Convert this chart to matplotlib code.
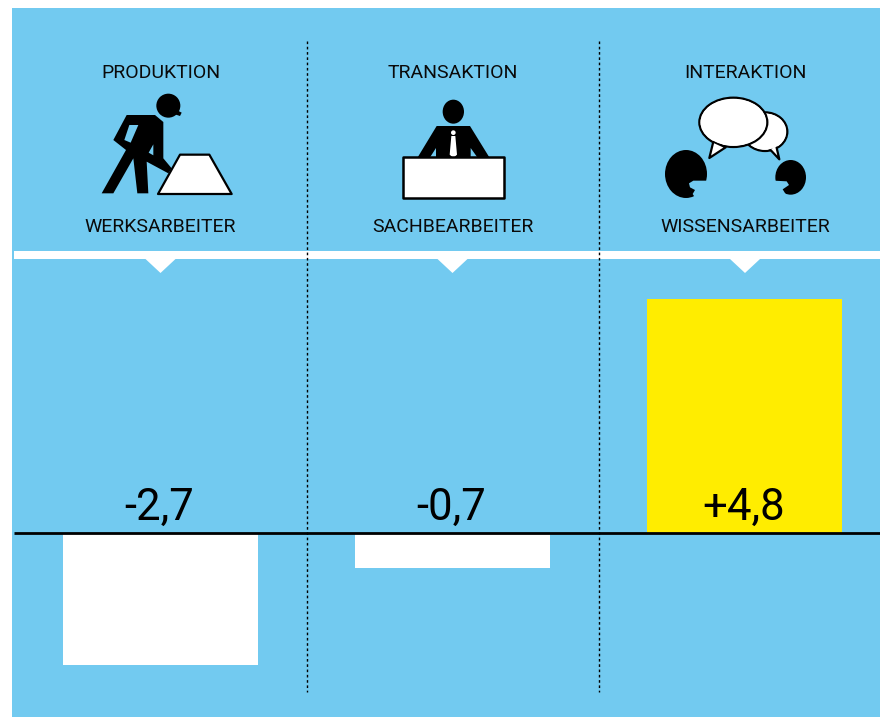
import matplotlib
matplotlib.use("Agg")
import matplotlib.pyplot as plt
from matplotlib.patches import Ellipse, Polygon, Rectangle

plt.rcParams["font.family"] = ["Roboto", "DejaVu Sans"]

BLUE = "#72CAF0"
YELLOW = "#FFED00"

activities = ["PRODUKTION", "TRANSAKTION", "INTERAKTION"]
workers = ["WERKSARBEITER", "SACHBEARBEITER", "WISSENSARBEITER"]
values = [-2.7, -0.7, 4.8]
value_labels = ["-2,7", "-0,7", "+4,8"]
bar_colors = ["white", "white", YELLOW]

W, H = 880, 717
fig = plt.figure(figsize=(W / 100, H / 100), dpi=100, facecolor="white")

# overlay in pixel coordinates for the panel and the pictograms
px = fig.add_axes([0, 0, 1, 1], zorder=1)
px.set_xlim(0, W)
px.set_ylim(H, 0)
px.axis("off")
px.add_patch(Rectangle((12, 8), W - 12, H - 8, fc=BLUE, ec="none"))

# bars use their own value scale, zero sits at pixel row 533.5
PX_PER_UNIT = 48.8
PX_PER_CAT = 292
ZERO_ROW = 533.5
ax = fig.add_axes([0, 0, 1, 1], zorder=2)
ax.patch.set_alpha(0)
ax.set_xlim(-160.5 / PX_PER_CAT, (W - 160.5) / PX_PER_CAT)
ax.set_ylim(-(H - ZERO_ROW) / PX_PER_UNIT, ZERO_ROW / PX_PER_UNIT)
ax.axis("off")
ax.bar(range(3), values, width=195 / PX_PER_CAT, color=bar_colors, linewidth=0)

top = fig.add_axes([0, 0, 1, 1], zorder=3)
top.patch.set_alpha(0)
top.set_xlim(0, W)
top.set_ylim(H, 0)
top.axis("off")

top.plot([14, W], [533, 533], color="black", lw=2, solid_capstyle="butt")
top.add_patch(Rectangle((14, 251), W - 14, 8, fc="white", ec="none"))
for x in [306.5, 598.5]:
    top.plot([x, x], [41, 691.5], color="black", lw=1, dashes=(1.9, 1.9), dash_capstyle="butt")

centers = [160.5, 452.5, 745]
for i, c in enumerate(centers):
    top.add_patch(Polygon([(c - 15, 259), (c + 15, 259), (c, 273)], fc="white", ec="none"))
    top.text(c, 73, activities[i], ha="center", va="center", fontsize=14, color="#0a0a0a")
    top.text(c, 226.5, workers[i], ha="center", va="center", fontsize=14, color="#0a0a0a")
    top.text(c - 1, 507.5, value_labels[i], ha="center", va="center", fontsize=31.5, color="black")


def blob(x0, y0, cx, cy, rx, ry, fc="black", ec="none", lw=0):
    top.add_patch(Ellipse((x0 + cx / 3, y0 + cy / 3), 2 * rx / 3, 2 * ry / 3, fc=fc, ec=ec, lw=lw))


def poly(x0, y0, points, fc="black", ec="none", lw=0):
    pts = [(x0 + a / 3, y0 + b / 3) for a, b in points]
    top.add_patch(Polygon(pts, fc=fc, ec=ec, lw=lw, joinstyle="round"))


# worker with shovel
x0, y0 = 100, 90
blob(x0, y0, 205, 47, 36, 36)
poly(x0, y0, [(230, 60), (245, 68), (240, 78), (222, 72)])
poly(x0, y0, [(80, 75), (165, 75), (190, 96), (190, 205), (215, 235), (205, 250), (140, 215),
              (145, 310), (112, 310), (100, 205), (40, 310), (5, 310), (78, 180), (40, 150)])
poly(x0, y0, [(88, 105), (115, 105), (92, 158), (73, 150)], fc=BLUE)
poly(x0, y0, [(160, 163), (146, 188), (160, 196)], fc=BLUE)
poly(60, 50, [(360, 314), (448, 314), (515, 432), (294, 432)], fc="white", ec="black", lw=1.6)

# clerk behind desk
x0, y0 = 350, 50
blob(x0, y0, 310, 185, 32, 36)
poly(x0, y0, [(260, 228), (360, 228), (418, 322), (382, 322), (362, 294), (362, 322), (258, 322),
              (258, 294), (240, 322), (203, 322)])
blob(x0, y0, 310, 248, 7, 7, fc="white")
poly(x0, y0, [(304, 258), (316, 258), (321, 314), (310, 324), (299, 314)], fc="white")
poly(x0, y0, [(158, 322), (462, 322), (462, 444), (158, 444)], fc="white", ec="black", lw=1.8)

# talking heads
x0, y0 = 660, 90
blob(x0, y0, 315, 125, 67, 58, fc="white", ec="black", lw=1.6)
poly(x0, y0, [(328, 176), (358, 208), (348, 165)], fc="white", ec="black", lw=1.6)
blob(x0, y0, 315, 125, 63, 54, fc="white")
blob(x0, y0, 220, 97, 102, 74, fc="white", ec="black", lw=1.6)
poly(x0, y0, [(160, 155), (148, 204), (197, 172)], fc="white", ec="black", lw=1.6)
blob(x0, y0, 220, 97, 98, 70, fc="white")
blob(x0, y0, 78, 252, 63, 72)
poly(x0, y0, [(145, 272), (100, 272), (87, 280), (90, 292), (105, 300), (98, 312), (110, 330), (150, 330)], fc=BLUE)
blob(x0, y0, 392, 262, 46, 52)
poly(x0, y0, [(342, 272), (380, 274), (387, 285), (368, 298), (378, 314), (342, 322)], fc=BLUE)

fig.savefig("out.png", dpi=100)
